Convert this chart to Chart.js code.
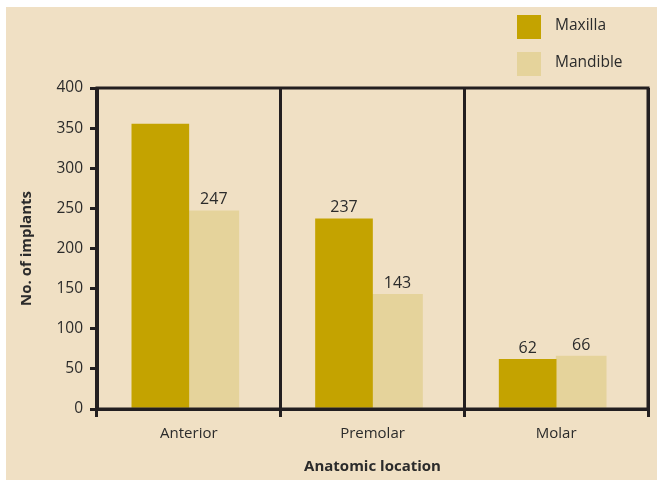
<!DOCTYPE html>
<html>
<head>
<meta charset="utf-8">
<script src="https://cdn.jsdelivr.net/npm/chart.js@4/dist/chart.umd.min.js"></script>
<style>
  html, body { margin: 0; padding: 0; background: #ffffff; }
  #bg { position: absolute; left: 6px; top: 7px; width: 651px; height: 473px; background: #F0E0C4; }
  #wrap { position: absolute; left: 0; top: 0; width: 657px; height: 480px; }
</style>
</head>
<body>
<div id="bg"></div>
<div id="wrap"><canvas id="c" width="657" height="480"></canvas></div>
<script>
const categories = ["Anterior", "Premolar", "Molar"];
const maxillaValues = [355, 237, 62];
const mandibleValues = [247, 143, 66];
const maxillaLabels = [null, "237", "62"];
const mandibleLabels = ["247", "143", "66"];
const yTicks = [0, 50, 100, 150, 200, 250, 300, 350, 400];
const seriesNames = ["Maxilla", "Mandible"];

const FONT = "'Open Sans', sans-serif";
const TEXT = "#2b2b2b";
const AXIS = "#231F20";
const C_MAX = "#C4A300";
const C_MAN = "#E5D39B";

const frame = {
  id: "frame",
  afterDraw(chart) {
    const { ctx, chartArea: a } = chart;
    ctx.save();
    ctx.strokeStyle = AXIS;
    ctx.lineWidth = 3;
    ctx.strokeRect(a.left, a.top, a.right - a.left, a.bottom - a.top);
    // value labels
    ctx.fillStyle = TEXT;
    ctx.font = "16px " + FONT;
    ctx.textAlign = "center";
    ctx.textBaseline = "bottom";
    const lbls = [maxillaLabels, mandibleLabels];
    chart.data.datasets.forEach((ds, di) => {
      const meta = chart.getDatasetMeta(di);
      meta.data.forEach((bar, i) => {
        const t = lbls[di][i];
        if (t) ctx.fillText(t, bar.x, bar.y - 3);
      });
    });
    // legend
    const items = [[C_MAX, seriesNames[0], 15], [C_MAN, seriesNames[1], 52]];
    ctx.font = "15.5px " + FONT;
    ctx.textAlign = "left";
    ctx.textBaseline = "middle";
    items.forEach(([col, name, y]) => {
      ctx.fillStyle = col;
      ctx.fillRect(517, y, 24, 24);
      ctx.fillStyle = TEXT;
      ctx.fillText(name, 555, y + 11);
    });
    ctx.restore();
  }
};

new Chart(document.getElementById("c"), {
  type: "bar",
  data: {
    labels: categories,
    datasets: [
      { label: seriesNames[0], data: maxillaValues, backgroundColor: C_MAX, barThickness: 57 },
      { label: seriesNames[1], data: mandibleValues, backgroundColor: C_MAN, barThickness: 50 }
    ]
  },
  options: {
    responsive: false,
    animation: false,
    devicePixelRatio: 1,
    layout: { padding: { top: 88, right: 9, left: 0, bottom: 0 } },
    plugins: { legend: { display: false }, tooltip: { enabled: false } },
    datasets: { bar: { categoryPercentage: 0.585, barPercentage: 1 } },
    scales: {
      x: {
        offset: true,
        afterFit(s) { s.height = 71; },
        grid: { offset: true, display: true, drawOnChartArea: true, color: AXIS, lineWidth: 3, tickLength: 8, tickColor: AXIS },
        border: { display: true, color: AXIS, width: 3 },
        ticks: { color: TEXT, font: { family: FONT, size: 15 }, padding: 8 },
        title: { display: true, text: "Anatomic location", color: TEXT, font: { family: FONT, size: 15, weight: "bold" }, padding: { top: 4, bottom: 4 } }
      },
      y: {
        min: 0, max: 400,
        afterFit(s) { s.width = 97; },
        afterBuildTicks(s) { s.ticks = yTicks.map(v => ({ value: v })); },
        grid: { display: true, drawOnChartArea: false, color: AXIS, lineWidth: 3, tickLength: 7, tickColor: AXIS },
        border: { display: true, color: AXIS, width: 3 },
        ticks: { color: TEXT, font: { family: FONT, size: 15.5 }, padding: 7 },
        title: { display: true, text: "No. of implants", color: TEXT, font: { family: FONT, size: 15, weight: "bold" }, padding: { top: 18, bottom: 0 } }
      }
    }
  },
  plugins: [frame]
});
</script>
</body>
</html>
